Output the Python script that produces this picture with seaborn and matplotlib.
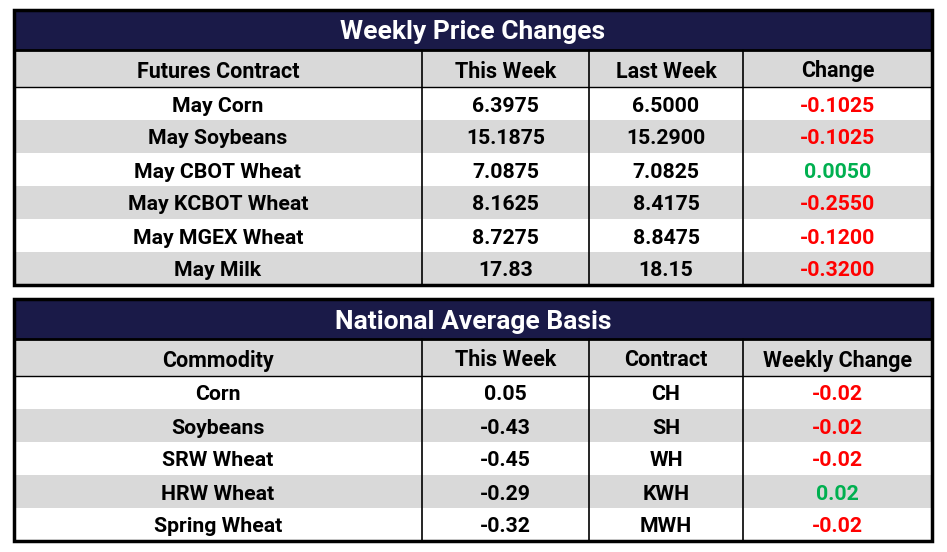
import matplotlib.pyplot as plt
from matplotlib.patches import Rectangle
import seaborn as sns

# futures table
futures = ["May Corn", "May Soybeans", "May CBOT Wheat", "May KCBOT Wheat", "May MGEX Wheat", "May Milk"]
fut_this = [6.3975, 15.1875, 7.0875, 8.1625, 8.7275, 17.83]
fut_last = [6.5000, 15.2900, 7.0825, 8.4175, 8.8475, 18.15]
fut_dec = [4, 4, 4, 4, 4, 2]
fut_change = [-0.1025, -0.1025, 0.0050, -0.2550, -0.1200, -0.3200]
fut_header = ["Futures Contract", "This Week", "Last Week", "Change"]

# basis table
commodities = ["Corn", "Soybeans", "SRW Wheat", "HRW Wheat", "Spring Wheat"]
basis_this = [0.05, -0.43, -0.45, -0.29, -0.32]
contracts = ["CH", "SH", "WH", "KWH", "MWH"]
basis_change = [-0.02, -0.02, -0.02, 0.02, -0.02]
basis_header = ["Commodity", "This Week", "Contract", "Weekly Change"]

sns.set_theme(style="white")
plt.rcParams['font.family'] = ['Roboto', 'DejaVu Sans']

navy = "#1a1a48"
gray = "#d9d9d9"
red = "#ff0000"
green = "#00b050"

col_edges = [14, 422, 589, 743, 932]
title_h = 40
head_h = 37
row_h = 33

fig = plt.figure(figsize=(9.47, 5.52), dpi=100)
ax = fig.add_axes([0, 0, 1, 1])
ax.set_xlim(0, 947)
ax.set_ylim(552, 0)
ax.axis("off")


def draw_table(top, title, header, rows, colors):
    left, right = col_edges[0], col_edges[-1]
    # title band
    ax.add_patch(Rectangle((left, top), right - left, title_h, color=navy, lw=0))
    ax.text((left + right) / 2, top + title_h / 2 + 2.5, title, color="white",
            fontsize=19, fontweight="bold", ha="center", va="center")
    y = top + title_h
    ax.add_patch(Rectangle((left, y), right - left, head_h, color=gray, lw=0))
    for j, h in enumerate(header):
        cx = (col_edges[j] + col_edges[j + 1]) / 2
        ax.text(cx, y + head_h / 2 + 0.5, h, fontsize=15.5, fontweight="bold",
                ha="center", va="center_baseline", color="black")
    ax.plot([left, right], [y, y], color="black", lw=2)
    y0 = y + head_h
    ax.plot([left, right], [y0, y0], color="black", lw=1)
    for i, row in enumerate(rows):
        ry = y0 + i * row_h
        if i % 2 == 1:
            ax.add_patch(Rectangle((left, ry), right - left, row_h, color=gray, lw=0))
        for j, val in enumerate(row):
            cx = (col_edges[j] + col_edges[j + 1]) / 2
            ax.text(cx, ry + row_h / 2 + 0.5, val, fontsize=15.3, fontweight="bold",
                    ha="center", va="center_baseline", color=colors[i][j])
    bottom = y0 + len(rows) * row_h
    for x in col_edges[1:-1]:
        ax.plot([x, x], [y, bottom], color="black", lw=1.2)
    ax.add_patch(Rectangle((left, top), right - left, bottom - top, fill=False,
                           edgecolor="black", lw=2.5))


rows1, cols1 = [], []
for i in range(len(futures)):
    d = fut_dec[i]
    rows1.append([futures[i], f"{fut_this[i]:.{d}f}", f"{fut_last[i]:.{d}f}", f"{fut_change[i]:.4f}"])
    cols1.append(["black", "black", "black", green if fut_change[i] > 0 else red])
draw_table(10, "Weekly Price Changes", fut_header, rows1, cols1)

rows2, cols2 = [], []
for i in range(len(commodities)):
    rows2.append([commodities[i], f"{basis_this[i]:.2f}", contracts[i], f"{basis_change[i]:.2f}"])
    cols2.append(["black", "black", "black", green if basis_change[i] > 0 else red])
draw_table(299, "National Average Basis", basis_header, rows2, cols2)

fig.savefig("out.png", dpi=100)
